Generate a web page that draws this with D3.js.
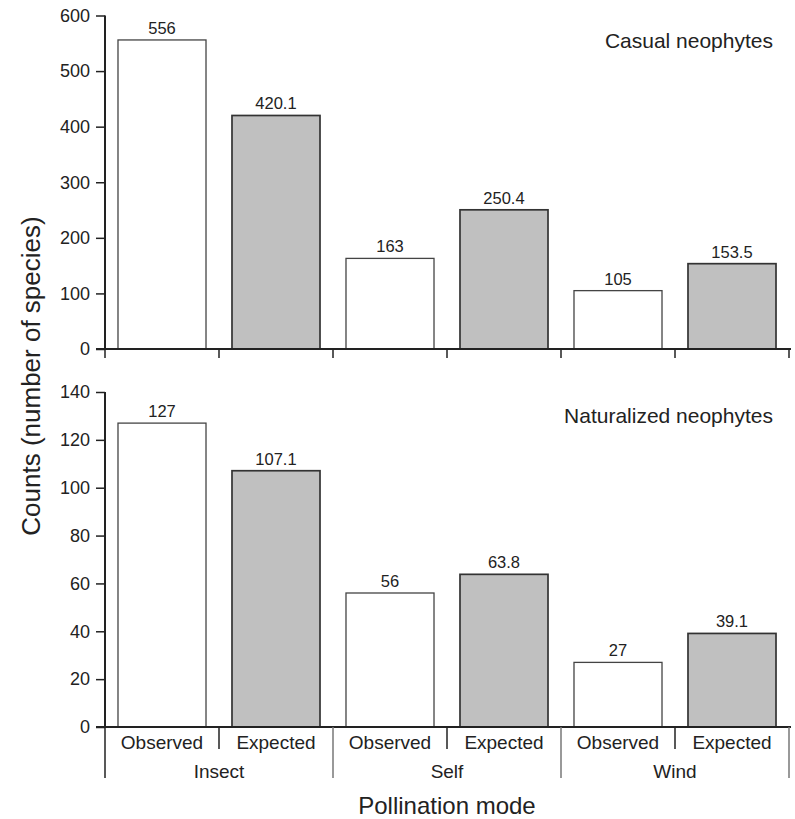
<!DOCTYPE html>
<html>
<head>
<meta charset="utf-8">
<script src="https://cdn.jsdelivr.net/npm/d3@7"></script>
<style>
  html, body { margin: 0; padding: 0; background: #fff; }
  svg { display: block; font-family: "Liberation Sans", Arial, Helvetica, sans-serif; }
</style>
</head>
<body>
<svg id="chart" width="795" height="819"></svg>
<script>
// Pollination modes and the two kinds of counts shown for each
const groups = ["Insect", "Self", "Wind"];
const kinds = ["Observed", "Expected"];

// Casual neophytes
const casualObserved = [556, 163, 105];
const casualExpected = [420.1, 250.4, 153.5];
const casualTicks = [0, 100, 200, 300, 400, 500, 600];

// Naturalized neophytes
const naturalObserved = [127, 56, 27];
const naturalExpected = [107.1, 63.8, 39.1];
const naturalTicks = [0, 20, 40, 60, 80, 100, 120, 140];

const panelTitles = ["Casual neophytes", "Naturalized neophytes"];
const yTitle = "Counts (number of species)";
const xTitle = "Pollination mode";

const svg = d3.select("#chart");
const ink = "#222";
const left = 105, right = 789;

// one slot per (group, kind) pair
const slots = [];
groups.forEach(g => kinds.forEach(k => slots.push(g + "|" + k)));

const slotScale = d3.scaleBand().domain(slots).range([left, right]).padding(0);
const barScale = d3.scaleBand().domain(slots).range([left, right])
  .paddingInner(0.228).paddingOuter(0.114);
const groupScale = d3.scaleBand().domain(groups).range([left, right]).padding(0);

function rows(obs, exp) {
  const out = [];
  groups.forEach((g, i) => {
    out.push({ key: g + "|Observed", kind: "Observed", value: obs[i] });
    out.push({ key: g + "|Expected", kind: "Expected", value: exp[i] });
  });
  return out;
}

function panel(data, domainMax, ticks, y0, y1, title, titleY) {
  const y = d3.scaleLinear().domain([0, domainMax]).range([y0, y1]);
  const g = svg.append("g");

  // y axis
  const ax = g.append("g")
    .attr("transform", `translate(${left},0)`)
    .call(d3.axisLeft(y).tickValues(ticks).tickSize(9).tickPadding(6).tickFormat(d3.format("d")));
  ax.select(".domain").remove();
  ax.selectAll(".tick line").attr("stroke", ink).attr("stroke-width", 1.5);
  ax.selectAll(".tick text").attr("fill", ink).attr("font-size", 18)
    .attr("font-family", "Liberation Sans, Arial, sans-serif");

  // bars
  g.selectAll("rect.bar").data(data).join("rect")
    .attr("class", "bar")
    .attr("x", d => barScale(d.key))
    .attr("width", barScale.bandwidth())
    .attr("y", d => y(d.value))
    .attr("height", d => y(0) - y(d.value))
    .attr("fill", d => d.kind === "Expected" ? "#c0c0c0" : "#fff")
    .attr("stroke", d => d.kind === "Expected" ? "#333" : "#444")
    .attr("stroke-width", d => d.kind === "Expected" ? 1.7 : 1.3);

  // value labels
  g.selectAll("text.val").data(data).join("text")
    .attr("class", "val")
    .attr("x", d => barScale(d.key) + barScale.bandwidth() / 2)
    .attr("y", d => y(d.value) - 6)
    .attr("text-anchor", "middle")
    .attr("font-size", 16.5)
    .attr("fill", ink)
    .text(d => String(d.value));

  // axes lines
  g.append("line").attr("x1", left - 9).attr("x2", right + 2)
    .attr("y1", y(0)).attr("y2", y(0)).attr("stroke", ink).attr("stroke-width", 2);
  g.append("line").attr("x1", left).attr("x2", left)
    .attr("y1", y(domainMax)).attr("y2", y(0)).attr("stroke", ink).attr("stroke-width", 2);

  // panel title
  g.append("text").attr("x", 773).attr("y", titleY)
    .attr("text-anchor", "end").attr("font-size", 21).attr("fill", ink)
    .text(title);
  return y;
}

const yTop = panel(rows(casualObserved, casualExpected), 600, casualTicks, 349, 15.5, panelTitles[0], 48);
const yBot = panel(rows(naturalObserved, naturalExpected), 140, naturalTicks, 727, 392, panelTitles[1], 423);

// top panel: short ticks at every slot boundary
const boundaries = slots.map(s => slotScale(s) + slotScale.bandwidth());
svg.append("g").selectAll("line").data([left].concat(boundaries)).join("line")
  .attr("x1", d => d).attr("x2", d => d)
  .attr("y1", yTop(0)).attr("y2", yTop(0) + 9)
  .attr("stroke", ink).attr("stroke-width", 1.5);

// bottom panel: kind separators and group separators
const kindSeps = groups.map(gname => slotScale(gname + "|Expected"));
svg.append("g").selectAll("line").data(kindSeps).join("line")
  .attr("x1", d => d).attr("x2", d => d)
  .attr("y1", yBot(0)).attr("y2", yBot(0) + 22)
  .attr("stroke", ink).attr("stroke-width", 1.5);

const groupSeps = groups.map(gname => groupScale(gname)).concat([right]);
svg.append("g").selectAll("line").data(groupSeps).join("line")
  .attr("x1", d => d).attr("x2", d => d)
  .attr("y1", yBot(0)).attr("y2", yBot(0) + 51)
  .attr("stroke", (d, i) => i === 0 ? ink : "#777").attr("stroke-width", 1.5);

// kind labels
svg.append("g").selectAll("text").data(slots).join("text")
  .attr("x", d => slotScale(d) + slotScale.bandwidth() / 2)
  .attr("y", yBot(0) + 22)
  .attr("text-anchor", "middle").attr("font-size", 19).attr("fill", ink)
  .text(d => d.split("|")[1]);

// group labels
svg.append("g").selectAll("text").data(groups).join("text")
  .attr("x", d => groupScale(d) + groupScale.bandwidth() / 2)
  .attr("y", yBot(0) + 51)
  .attr("text-anchor", "middle").attr("font-size", 19).attr("fill", ink)
  .text(d => d);

// axis titles
svg.append("text").attr("x", (left + right) / 2).attr("y", 814)
  .attr("text-anchor", "middle").attr("font-size", 24).attr("fill", ink)
  .text(xTitle);

svg.append("text").attr("transform", "translate(40,376) rotate(-90)")
  .attr("text-anchor", "middle").attr("font-size", 26).attr("fill", ink)
  .text(yTitle);
</script>
</body>
</html>
